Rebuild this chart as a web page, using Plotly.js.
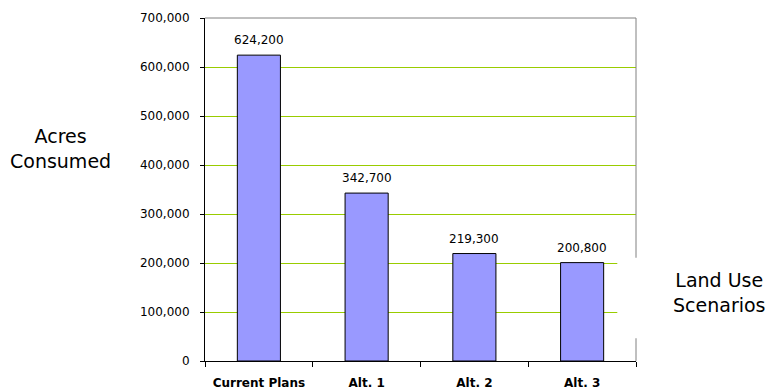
<!DOCTYPE html>
<html>
<head>
<meta charset="utf-8">
<script src="https://cdn.plot.ly/plotly-3.0.1.min.js"></script>
<style>
  html, body { margin: 0; padding: 0; background: #ffffff; }
  #chart { width: 767px; height: 389px; }
</style>
</head>
<body>
<div id="chart"></div>
<script>
// Acres consumed under each land use scenario
const scenarios = ['Current Plans', 'Alt. 1', 'Alt. 2', 'Alt. 3'];
const acres = [624200, 342700, 219300, 200800];
const yTicks = [0, 100000, 200000, 300000, 400000, 500000, 600000, 700000];

const fmt = v => v.toLocaleString('en-US');

const bars = {
  type: 'bar',
  x: scenarios,
  y: acres,
  marker: { color: '#9999FF', line: { color: '#000000', width: 1 } },
  hoverinfo: 'x+y'
};

// value labels sitting above each bar
const valueLabels = scenarios.map((s, i) => ({
  x: s, y: acres[i], xref: 'x', yref: 'y',
  text: fmt(acres[i]),
  showarrow: false, yanchor: 'middle', yshift: 15,
  font: { family: 'DejaVu Sans', size: 12, color: '#000000' }
}));

const layout = {
  width: 767, height: 389,
  margin: { l: 205, r: 131, t: 18, b: 28 },
  paper_bgcolor: '#ffffff',
  plot_bgcolor: '#ffffff',
  showlegend: false,
  bargap: 0.6,
  font: { family: 'DejaVu Sans', size: 12, color: '#000000' },
  xaxis: {
    type: 'category',
    showline: true, linecolor: '#000000', linewidth: 1,
    ticks: 'outside', tickson: 'boundaries', ticklen: 5, tickcolor: '#000000',
    ticklabelstandoff: 11,
    tickfont: { family: 'DejaVu Sans', size: 12, weight: 'bold', color: '#000000' },
    showgrid: false, zeroline: false,
    fixedrange: true
  },
  yaxis: {
    range: [0, 700000],
    tickvals: yTicks,
    ticktext: yTicks.map(fmt),
    showline: true, linecolor: '#000000', linewidth: 1,
    ticks: 'outside', ticklen: 4, tickcolor: '#000000',
    ticklabelstandoff: 8,
    showgrid: true, gridcolor: '#99CC00', gridwidth: 1,
    zeroline: false,
    tickfont: { family: 'DejaVu Sans', size: 12, color: '#000000' },
    fixedrange: true
  },
  shapes: [
    // grey frame on top and right of the plotting area
    { type: 'line', xref: 'paper', yref: 'paper', x0: 0, x1: 1, y0: 1, y1: 1,
      line: { color: '#808080', width: 1 } },
    { type: 'line', xref: 'paper', yref: 'paper', x0: 1, x1: 1, y0: 0, y1: 1,
      line: { color: '#808080', width: 1 } },
    // white panel behind the category axis caption
    { type: 'rect', xref: 'paper', yref: 'paper', x0: 0.9566, x1: 1.4, y0: 0.0665, y1: 0.3008,
      fillcolor: '#ffffff', line: { width: 0 }, layer: 'above' }
  ],
  annotations: valueLabels.concat([
    { xref: 'paper', yref: 'paper', x: -0.3355, y: 0.6186,
      text: 'Acres<br>Consumed', showarrow: false, align: 'center',
      xanchor: 'center', yanchor: 'middle',
      font: { family: 'DejaVu Sans', size: 19, color: '#000000' } },
    { xref: 'paper', yref: 'paper', x: 1.1946, y: 0.1998,
      text: 'Land Use<br>Scenarios', showarrow: false, align: 'center',
      xanchor: 'center', yanchor: 'middle',
      font: { family: 'DejaVu Sans', size: 19, color: '#000000' } }
  ])
};

Plotly.newPlot('chart', [bars], layout, { displayModeBar: false, staticPlot: true });
</script>
</body>
</html>
